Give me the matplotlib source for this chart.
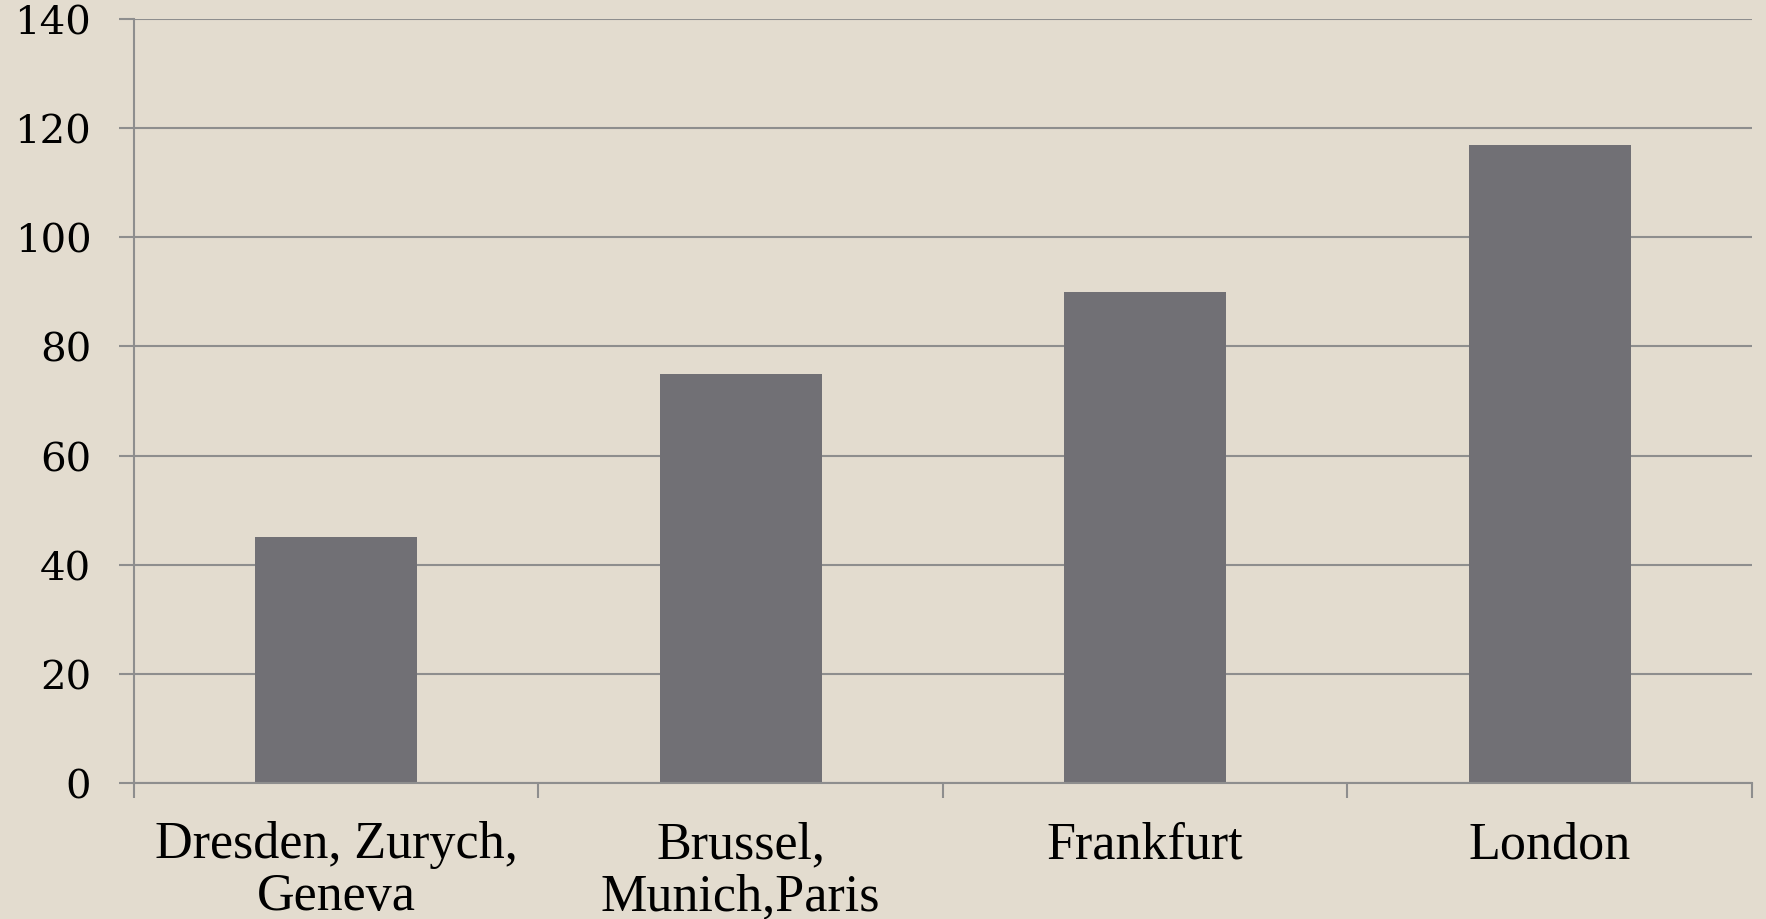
import matplotlib
matplotlib.use("Agg")
import matplotlib.pyplot as plt
from matplotlib.ticker import FixedLocator

categories = ["Dresden, Zurych,\nGeneva", "Brussel,\nMunich,Paris", "Frankfurt", "London"]
values = [45, 75, 90, 117]
yticks = [0, 20, 40, 60, 80, 100, 120, 140]

bg = "#E3DCCF"
bar_color = "#717075"
grid_color = "#8E8E8E"

plt.rcParams['font.family'] = ['Liberation Serif', 'DejaVu Serif']

fig = plt.figure(figsize=(17.66, 9.2), dpi=100, facecolor=bg)
ax = fig.add_axes([0.0759, 0.148, 0.9161, 0.830], facecolor=bg)

x = list(range(len(categories)))
ax.bar(x, values, width=0.40, color=bar_color, zorder=3)

ax.set_xlim(-0.5, len(categories) - 0.5)
ax.set_ylim(0, 140)
ax.set_yticks(yticks)
ax.set_yticklabels([str(v) for v in yticks], family=['DejaVu Serif'])
ax.set_xticks(x)
ax.set_xticklabels(categories, linespacing=1.1)
ax.xaxis.set_minor_locator(FixedLocator([i - 0.5 for i in range(len(categories) + 1)]))

ax.yaxis.grid(True, color=grid_color, linewidth=1.5, zorder=1)
ax.xaxis.grid(False)
for s in ["top", "right"]:
    ax.spines[s].set_visible(False)
for s in ["left", "bottom"]:
    ax.spines[s].set_color(grid_color)
    ax.spines[s].set_linewidth(1.5)
    ax.spines[s].set_zorder(4)

ax.tick_params(axis="y", which="major", length=10.8, width=1.5, color=grid_color,
               labelsize=29, pad=20, labelcolor="black")
ax.tick_params(axis="x", which="major", length=0, labelsize=37.5, pad=27, labelcolor="black")
ax.tick_params(axis="x", which="minor", length=10.8, width=1.5, color=grid_color)

fig.savefig("out.png", dpi=100, facecolor=bg)
